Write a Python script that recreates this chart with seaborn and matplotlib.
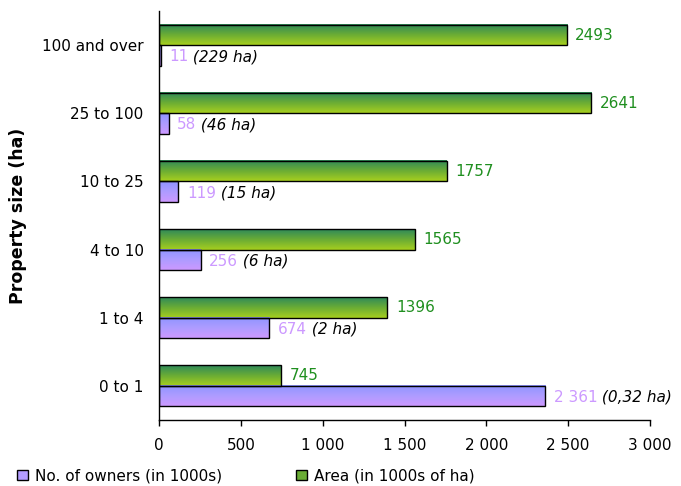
import numpy as np
import pandas as pd
import seaborn as sns
import matplotlib

matplotlib.use("Agg")
import matplotlib.pyplot as plt
from matplotlib.patches import Patch
from matplotlib.colors import LinearSegmentedColormap

# data, top to bottom as shown in the chart
sizes = ["100 and over", "25 to 100", "10 to 25", "4 to 10", "1 to 4", "0 to 1"]
owners = [11, 58, 119, 256, 674, 2361]          # in 1000s
area = [2493, 2641, 1757, 1565, 1396, 745]      # in 1000s of ha
avg_size = ["(229 ha)", "(46 ha)", "(15 ha)", "(6 ha)", "(2 ha)", "(0,32 ha)"]
xticks = [0, 500, 1000, 1500, 2000, 2500, 3000]

df = pd.DataFrame({
    "size": sizes * 2,
    "value": area + owners,
    "series": ["Area"] * len(sizes) + ["Owners"] * len(sizes),
})

sns.set_style("white")
plt.rcParams["font.family"] = ["DejaVu Sans"]
plt.rcParams["text.color"] = "black"
plt.rcParams["xtick.color"] = "black"
plt.rcParams["ytick.color"] = "black"
plt.rcParams["axes.labelcolor"] = "black"

fig = plt.figure(figsize=(6.81, 4.86), dpi=100)
ax = fig.add_axes([0.2335, 0.136, 0.721, 0.841])

sns.barplot(data=df, y="size", x="value", hue="series", order=sizes,
            hue_order=["Area", "Owners"], orient="h", width=0.6,
            dodge=True, legend=False, ax=ax, edgecolor="black", linewidth=1)

green = LinearSegmentedColormap.from_list("g", ["#2f8a5a", "#6aac35", "#a6cf1f"])
purple = LinearSegmentedColormap.from_list("p", ["#8f94ff", "#ad9cff", "#cc99ff"])
grad = np.linspace(0, 1, 64).reshape(-1, 1)

# gradient fill inside each bar (first 6 patches are Area, next 6 Owners)
for i, p in enumerate(ax.patches[:12]):
    x0, y0 = p.get_x(), p.get_y()
    w, h = p.get_width(), p.get_height()
    cmap = green if i < 6 else purple
    ax.imshow(grad, cmap=cmap, aspect="auto", extent=[x0, x0 + w, y0 + h, y0],
              origin="upper", zorder=1.5, interpolation="bilinear")
    p.set_facecolor("none")
    p.set_zorder(2)

ax.set_xlim(0, 3000)
ax.set_ylim(len(sizes) - 0.5, -0.5)

# value labels
for i in range(len(sizes)):
    ax.annotate(f"{area[i]}", (area[i], i - 0.15), xytext=(6, 0),
                textcoords="offset points", va="center", ha="left",
                color="#1f8f1f", fontsize=11)
    own = f"{owners[i]:,}".replace(",", " ")
    t = ax.annotate(own, (owners[i], i + 0.15), xytext=(6, -1),
                    textcoords="offset points", va="center", ha="left",
                    color="#cc99ff", fontsize=11)
    ax.annotate(" " + avg_size[i], xy=(1, 0.5), xycoords=t,
                va="center", ha="left", color="black", fontsize=11,
                style="italic")

ax.set_xticks(xticks)
ax.set_xticklabels([f"{v:,}".replace(",", " ") for v in xticks], fontsize=11)
ax.set_yticks(range(len(sizes)))
ax.set_yticklabels(sizes, fontsize=11)
ax.set_yticks(np.arange(-0.5, len(sizes), 1), minor=True)
ax.tick_params(axis="y", which="major", length=0, pad=11)
ax.tick_params(axis="y", which="minor", length=4, direction="out", width=1)
ax.tick_params(axis="x", length=4, direction="out", width=1, pad=9, bottom=True)

ax.set_xlabel("")
ax.set_ylabel("Property size (ha)", fontsize=12.5, fontweight="bold", labelpad=11)

for s in ["top", "right"]:
    ax.spines[s].set_visible(False)
for s in ["left", "bottom"]:
    ax.spines[s].set_color("black")
    ax.spines[s].set_linewidth(1)

handles = [Patch(facecolor="#b39cff", edgecolor="black", label="No. of owners (in 1000s)"),
           Patch(facecolor="#6aac35", edgecolor="black", label="Area (in 1000s of ha)")]
fig.legend(handles=handles, loc="center left", bbox_to_anchor=(0.005, 0.021), ncol=2,
           frameon=False, fontsize=11, handlelength=0.7, handleheight=0.7,
           handletextpad=0.5, columnspacing=4.8)

fig.savefig("out.png", dpi=100)
